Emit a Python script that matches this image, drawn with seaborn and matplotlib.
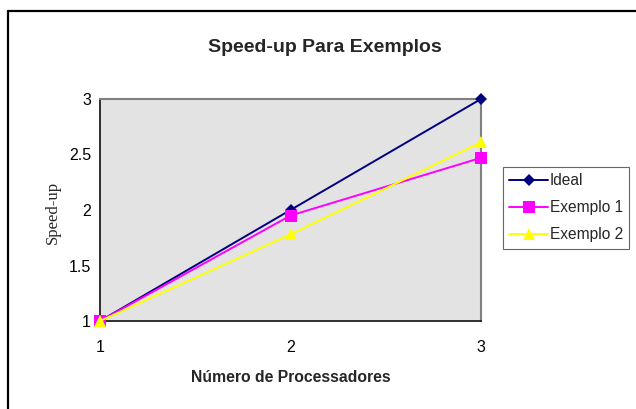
import matplotlib
matplotlib.use("Agg")
import matplotlib.pyplot as plt
from matplotlib.lines import Line2D
import seaborn as sns
import pandas as pd

processors = [1, 2, 3]
ideal = [1.0, 2.0, 3.0]
exemplo1 = [1.0, 1.95, 2.47]
exemplo2 = [1.0, 1.78, 2.61]
series_names = ["Ideal", "Exemplo 1", "Exemplo 2"]
y_ticks = [1, 1.5, 2, 2.5, 3]
y_tick_labels = ["1", "1.5", "2", "2.5", "3"]

sns.set_theme(style="white")
plt.rcParams["font.family"] = ["Liberation Sans", "DejaVu Sans"]

df = pd.DataFrame({
    "proc": processors * 3,
    "speed": ideal + exemplo1 + exemplo2,
    "serie": [series_names[0]] * 3 + [series_names[1]] * 3 + [series_names[2]] * 3,
})

fig = plt.figure(figsize=(6.36, 4.09), dpi=100)
ax = fig.add_axes([100 / 636, 1 - 321 / 409, 381 / 636, 222 / 409])
ax.set_facecolor("#E3E3E3")

palette = {"Ideal": "#000080", "Exemplo 1": "#FF00FF", "Exemplo 2": "#FFFF00"}
markers = {"Ideal": "D", "Exemplo 1": "s", "Exemplo 2": "^"}
sizes = {"Ideal": 6.5, "Exemplo 1": 8, "Exemplo 2": 9}

for name in series_names:
    sub = df[df["serie"] == name]
    sns.lineplot(data=sub, x="proc", y="speed", ax=ax, color=palette[name],
                 marker=markers[name], markersize=sizes[name], markeredgewidth=0,
                 linewidth=1.4, label=name, clip_on=False, zorder=3)

ax.set_xlim(1, 3)
ax.set_ylim(1, 3)
ax.set_xticks(processors)
ax.set_xticklabels([str(p) for p in processors])
ax.set_yticks(y_ticks)
ax.set_yticklabels(y_tick_labels)
ax.tick_params(axis="both", direction="inout", length=7, width=1, colors="black",
               labelsize=11.5)
ax.tick_params(axis="x", pad=10)
ax.tick_params(axis="y", pad=3)

for s in ["left", "bottom"]:
    ax.spines[s].set_color("#202020")
    ax.spines[s].set_linewidth(1.3)
for s in ["top", "right"]:
    ax.spines[s].set_color("#808080")
    ax.spines[s].set_linewidth(1.5)

ax.set_xlabel("Número de Processadores", fontsize=11.3, fontweight="bold", labelpad=11)
ax.set_ylabel("")
fig.text(53 / 636, 1 - 212 / 409, "Speed-up", rotation=90, ha="center", va="center",
         fontsize=12, family=["Liberation Serif", "DejaVu Serif"])
fig.text(325 / 636, 1 - 48 / 409, "Speed-up Para Exemplos", ha="center", va="center",
         fontsize=14, fontweight="bold")

leg = ax.legend(loc="upper left", bbox_to_anchor=(503 / 636, 1 - 167 / 409),
                bbox_transform=fig.transFigure, borderaxespad=0, frameon=True,
                fancybox=False, edgecolor="#404040", fontsize=11.2,
                handlelength=2.5, handletextpad=0.12, labelspacing=0.78,
                borderpad=0.4)
leg.get_frame().set_linewidth(0.8)

fig.add_artist(Line2D([7.5 / 636, 1.0], [1 - 10.5 / 409] * 2, transform=fig.transFigure,
                      color="black", linewidth=1.6))
fig.add_artist(Line2D([7.5 / 636] * 2, [0.0, 1 - 10.5 / 409], transform=fig.transFigure,
                      color="black", linewidth=1.6))

fig.savefig("out.png", dpi=100)
